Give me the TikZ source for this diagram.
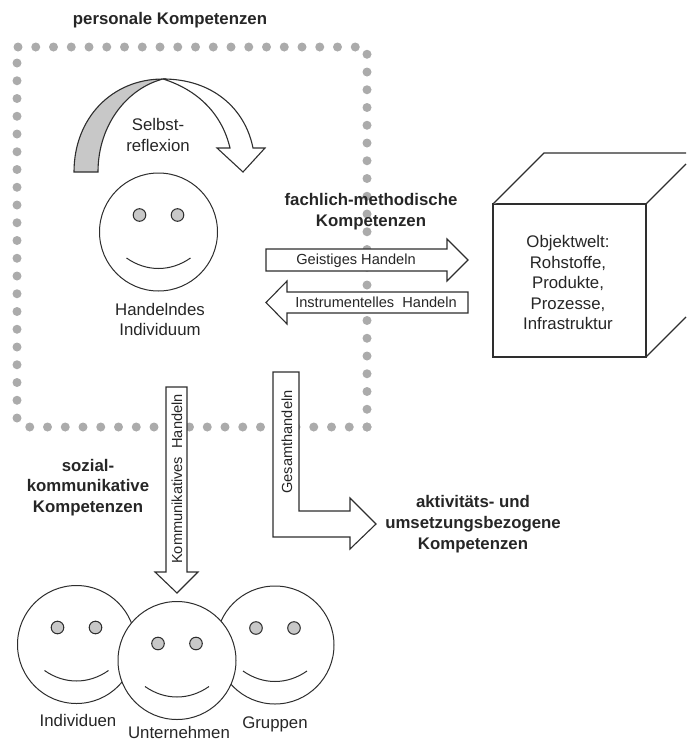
\documentclass[tikz,border=0pt]{standalone}
\usepackage{fontspec}
\setmainfont{Liberation Sans}
\definecolor{dotgray}{HTML}{ABABAB}
\definecolor{eyegray}{HTML}{C8C8C8}
\definecolor{linegray}{HTML}{2E2E2E}
\tikzset{
  every node/.style={text=black!85, align=center, inner sep=0pt, font=\fontsize{16.8}{20.5}\selectfont},
  head/.style={font=\fontsize{16.8}{20.7}\selectfont\bfseries},
  actlabel/.style={font=\fontsize{14.6}{18}\selectfont},
  blockarrow/.style={draw=linegray, line width=1.1pt, fill=white, line join=miter},
  dot/.style={fill=dotgray, draw=none},
  face/.pic={
    \draw[linegray, line width=1pt, fill=white] (0,0) circle (59);
    \draw[linegray, line width=1pt, fill=eyegray] (-19,-17) circle (6.3);
    \draw[linegray, line width=1pt, fill=eyegray] (19,-17) circle (6.3);
    \draw[linegray, line width=1pt] (-32,26) .. controls (-12,40) and (12,40) .. (32,26);
  }
}
\begin{document}
\begin{tikzpicture}[x=1pt, y=-1pt]
        \useasboundingbox (0,0) rectangle (686,742);

        % dotted frame
        \foreach \k in {0,...,19} {
            \fill[dot] (18+17.75*\k,47) circle (4.5);
            \fill[dot] (367-17.75*\k,427) circle (4.5);
        }
        \foreach \k in {0,...,21} \fill[dot] (367,427-17.75*\k) circle (4.5);
        \foreach \k in {0,...,20} \fill[dot] (17,418-17.75*\k) circle (4.5);

        % self reflexion
        \draw[blockarrow] (163,79) .. controls (212,79) and (245,108) .. (253,148)
              -- (265,148) -- (243,172) -- (217,148) -- (230,148)
              .. controls (222,114) and (198,90) .. (163,79);
        \draw[blockarrow, fill=eyegray] (74,172) .. controls (74,118) and (112,79) .. (163,79)
              .. controls (128,88) and (98,124) .. (98,172) -- cycle;
        \node (reflexion) at (158,135) {Selbst-\\reflexion};

        \pic at (158.5,232) {face};
        \node (individuum) at (160,319.5) {Handelndes\\Individuum};

        % block arrows
        \draw[blockarrow] (266,249) -- (447,249) -- (447,239) -- (468,260)
              -- (447,281) -- (447,271) -- (266,271) -- cycle;
        \draw[blockarrow] (468,292) -- (287,292) -- (287,281) -- (266,302.5)
              -- (287,324) -- (287,313) -- (468,313) -- cycle;
        \draw[blockarrow] (166,387) -- (187,387) -- (187,572) -- (198,572)
              -- (177,593) -- (155,572) -- (166,572) -- cycle;
        \draw[blockarrow] (273,372) -- (299,372) -- (299,511) -- (350,511) -- (350,498)
              -- (376,524) -- (350,549) -- (350,537) -- (273,537) -- cycle;

        \node[actlabel] (geistig) at (356,261) {Geistiges Handeln};
        \node[actlabel] (instrument) at (376,302) {Instrumentelles\ \ Handeln};
        \node[actlabel, rotate=90] (kommunikativ) at (177,479) {Kommunikatives\ \ Handeln};
        \node[actlabel, rotate=90] (gesamt) at (287,442) {Gesamthandeln};

        % object world
        \draw[blockarrow] (493,204) rectangle (646,357);
        \draw[blockarrow] (493,204) -- (544,153) -- (686,153);
        \draw[blockarrow] (646,204) -- (686,164);
        \draw[blockarrow] (646,357) -- (686,317);
        \node (objektwelt) at (568,282.5) {Objektwelt:\\Rohstoffe,\\Produkte,\\Prozesse,\\Infrastruktur};

        % competences
        \node[head] (personal) at (170,20) {personale Kompetenzen};
        \node[head] (fachlich) at (371,212) {fachlich-methodische\\Kompetenzen};
        \node[head] (sozial) at (88,487.5) {sozial-\\kommunikative\\Kompetenzen};
        \node[head] (aktiv) at (473,524) {aktivitäts- und\\umsetzungsbezogene\\Kompetenzen};

        % group
        \pic at (76.5,644.5) {face};
        \pic at (275,645) {face};
        \pic at (177,660.5) {face};
        \node (individuen) at (78,720) {Individuen};
        \node (unternehmen) at (179,732.5) {Unternehmen};
        \node (gruppen) at (275,724) {Gruppen};
    \end{tikzpicture}
\end{document}
